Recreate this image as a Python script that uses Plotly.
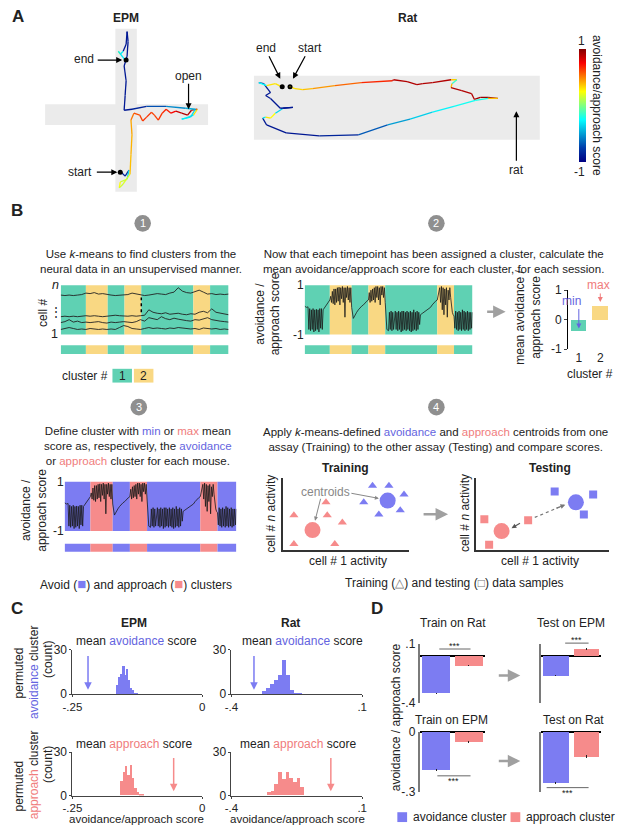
import plotly.graph_objects as go
from plotly.colors import sample_colorscale

W, H = 617, 832
FONT = "Liberation Sans, Arial, sans-serif"

BLUE = "#7c7cf2"
PINK = "#f68b8b"
TEAL = "#5fd1b3"
YELLOW = "#f9d883"
BLUE_TXT = "#6464e0"
PINK_TXT = "#f07c7c"
DARK = "#222222"
ARENA = "#ebebeb"

JET = [[0.0, "rgb(0,0,131)"], [0.125, "rgb(0,60,170)"], [0.375, "rgb(5,255,255)"],
       [0.625, "rgb(255,255,0)"], [0.875, "rgb(250,0,0)"], [1.0, "rgb(128,0,0)"]]

# ---------------- data ----------------
# A: tracked positions (video pixels, y pointing down) and avoidance/approach score
epm_x = [114, 118, 122, 120, 113, 112, 116, 123, 124, 125, 124, 127, 133, 136, 140, 145, 148, 152,
         156, 160, 165, 170, 176, 182, 186, 192, 188, 180, 176, 185, 190, 180, 160, 140, 125, 117,
         118, 119, 117, 120, 121, 120, 119, 116, 113, 111, 118]
epm_y = [168, 172, 166, 175, 178, 184, 180, 170, 150, 130, 115, 108, 110, 116, 112, 107, 110, 115,
         108, 104, 108, 106, 108, 110, 105, 104, 110, 113, 114, 112, 104, 103, 101, 101, 104, 105,
         90, 75, 60, 50, 35, 25, 38, 45, 48, 45, 54]
epm_score = [-0.8, -0.9, -0.8, 0.1, 0.2, 0.3, 0.0, 0.35, 0.4, 0.4, 0.45, 0.6, 0.6, 0.65, 0.65, 0.65,
             0.6, 0.65, 0.65, 0.7, 0.7, 0.8, 0.9, 0.9, 0.9, 0.9, -0.3, -0.3, -0.3, -0.3, -0.4, -0.5,
             -0.6, -0.8, -0.9, -0.9, -0.9, -0.9, -0.9, -0.9, -0.9, -0.9, -0.9, -0.9, 0.3, 0.2, -0.8]
epm_start = [113, 168]
epm_end = [119, 54]

rat_x = [287, 292, 300, 310, 333, 360, 392, 393, 407, 417, 423, 433, 452, 458, 453, 452, 463, 473,
         476, 482, 490, 500, 490, 477, 455, 433, 410, 387, 357, 317, 283, 263, 259, 262, 267, 272,
         280, 290, 277, 267, 262, 267, 260, 255, 263, 272, 278]
rat_y = [81, 83, 84, 83, 80, 77, 75, 74, 76, 79, 78, 77, 74, 74, 78, 82, 85, 88, 94, 92, 92, 93,
         93, 95, 101, 107, 114, 120, 130, 131, 128, 120, 113, 112, 113, 108, 103, 102, 103, 93, 90,
         87, 78, 77, 80, 78, 81]
rat_score = [0.3, 0.3, 0.35, 0.4, 0.5, 0.6, 0.75, 0.9, 0.9, 0.9, 0.9, 0.9, 0.9, -0.2, -0.1, 0.9,
             0.9, 0.9, 0.9, 0.95, 0.95, 0.95, -0.2, -0.2, -0.25, -0.3, -0.45, -0.55, -0.8, -0.9,
             -0.9, -0.9, -0.9, 0.3, 0.3, 0.2, -0.9, -0.9, -0.9, -0.9, -0.9, -0.9, -0.9, -0.8, 0.3,
             0.3, 0.3]
rat_start = [287, 81]
rat_end = [279, 81]

# B: k-means cluster assignment over the session
cluster_edges = [0, 15, 28, 38, 48, 79, 89, 100]
cluster_ids = [1, 2, 1, 2, 1, 2, 1]

neural_t = [0, 2.5, 5, 7.5, 10, 12.5, 15, 17.5, 20, 22.5, 25, 27.5, 30, 32.5, 35, 37.5, 40, 42.5,
            45, 47.5, 50, 52.5, 55, 57.5, 60, 62.5, 65, 67.5, 70, 72.5, 75, 77.5, 80, 82.5, 85,
            87.5, 90, 92.5, 95, 97.5, 100]
cell_n = [0.80, 0.79, 0.80, 0.79, 0.80, 0.81, 0.84, 0.83, 0.85, 0.82, 0.83, 0.81, 0.80, 0.79, 0.80,
          0.80, 0.81, 0.84, 0.82, 0.80, 0.79, 0.80, 0.82, 0.83, 0.82, 0.81, 0.84, 0.86, 0.95, 0.88,
          0.85, 0.84, 0.87, 0.90, 0.86, 0.82, 0.83, 0.81, 0.82, 0.81, 0.82]
cell_3 = [0.36, 0.37, 0.36, 0.37, 0.36, 0.37, 0.38, 0.37, 0.38, 0.37, 0.36, 0.37, 0.38, 0.39, 0.38,
          0.37, 0.37, 0.38, 0.37, 0.38, 0.39, 0.50, 0.45, 0.43, 0.42, 0.44, 0.41, 0.42, 0.43, 0.41,
          0.40, 0.42, 0.41, 0.45, 0.47, 0.44, 0.52, 0.45, 0.43, 0.41, 0.40]
cell_2 = [0.24, 0.26, 0.30, 0.25, 0.27, 0.24, 0.25, 0.24, 0.25, 0.26, 0.24, 0.23, 0.25, 0.24, 0.25,
          0.26, 0.25, 0.24, 0.26, 0.30, 0.27, 0.34, 0.32, 0.30, 0.36, 0.32, 0.30, 0.33, 0.31, 0.29,
          0.28, 0.27, 0.30, 0.29, 0.31, 0.34, 0.30, 0.28, 0.27, 0.26, 0.25]
cell_1 = [0.10, 0.12, 0.14, 0.12, 0.10, 0.11, 0.10, 0.12, 0.11, 0.10, 0.11, 0.10, 0.11, 0.10, 0.14,
          0.18, 0.16, 0.12, 0.11, 0.10, 0.12, 0.14, 0.12, 0.13, 0.12, 0.11, 0.13, 0.12, 0.14, 0.13,
          0.12, 0.11, 0.12, 0.10, 0.13, 0.12, 0.11, 0.12, 0.10, 0.11, 0.10]

score_t = [0, 1, 2, 2.5, 3, 3.5, 4, 4.5, 5, 5.5, 6, 6.5, 7, 7.5, 8, 8.5, 9, 9.5, 10, 10.5, 11, 12,
           13, 14, 15,
           15.5, 16, 16.5, 17, 17.5, 18, 18.5, 19, 19.5, 20, 20.5, 21, 21.5, 22, 22.5, 23, 23.5,
           24, 24.5, 25, 25.5, 26, 26.5, 27, 27.5, 28,
           29, 30, 31, 32, 33, 34, 35, 36, 37, 38,
           38.5, 39, 39.5, 40, 40.5, 41, 41.5, 42, 42.5, 43, 43.5, 44, 44.5, 45, 45.5, 46, 46.5,
           47, 47.5, 48,
           48.5, 49, 50, 50.5, 51, 51.5, 52, 52.5, 53, 54, 54.5, 55, 55.5, 56, 56.5, 57, 57.5, 58,
           58.5, 59, 59.5, 60, 60.5, 61, 61.5, 62, 62.5, 63, 63.5, 64, 64.5, 65, 65.5, 66, 66.5,
           67, 67.5, 68, 68.5, 69, 70, 71, 72, 73, 74, 75, 76, 77, 78, 79,
           79.5, 80, 80.5, 81, 81.5, 82, 82.5, 83, 83.5, 84, 84.5, 85, 85.5, 86, 86.5, 87, 87.5,
           88, 88.5, 89,
           89.5, 90, 90.5, 91, 91.5, 92, 92.5, 93, 93.5, 94, 94.5, 95, 95.5, 96, 96.5, 97, 97.5,
           98, 98.5, 99, 99.5, 100]
score_v = [0.15, 0.1, 0.12, -0.8, 0.05, -0.85, 0.0, -0.8, 0.05, -0.9, 0.0, -0.85, 0.02, -0.8, 0.0,
           -0.9, 0.05, -0.75, 0.05, -0.8, 0.0, 0.1, 0.2, 0.35, 0.4,
           0.55, 0.3, 0.75, 0.25, 0.85, 0.2, 0.85, 0.3, 0.9, 0.35, 0.92, 0.2, 0.9, 0.45, 0.95, 0.3,
           0.9, -0.3, 0.9, 0.5, 0.95, 0.4, 0.9, 0.3, 0.9, 0.1,
           -0.35, -0.2, -0.1, 0.0, 0.1, 0.15, 0.2, 0.3, 0.35, 0.4,
           0.7, 0.3, 0.8, 0.35, 0.85, 0.4, 0.9, 0.3, 0.95, 0.5, 0.95, 0.4, 0.9, 0.2, 0.95, 0.6,
           0.95, 0.5, 0.9, 0.3,
           -0.5, -0.8, -0.85, -0.1, -0.8, -0.05, -0.85, -0.1, -0.8, -0.05, -0.8, -0.1, -0.85, -0.05,
           -0.8, -0.1, -0.9, -0.05, -0.85, -0.05, -0.8, -0.1, -0.85, -0.05, -0.8, -0.1, -0.85,
           -0.05, -0.9, -0.1, -0.85, 0.0, -0.8, -0.1, -0.85, -0.05, -0.8, -0.1, -0.6, -0.2, -0.15,
           -0.1, -0.05, 0.0, 0.05, 0.1, 0.2, 0.3, 0.35, 0.4,
           0.6, 0.75, 0.9, 0.3, 0.95, 0.0, 0.9, -0.2, 0.85, 0.2, 0.9, -0.3, 0.8, 0.4, 0.9, 0.5,
           0.1, -0.1, -0.2, -0.25,
           -0.75, -0.05, -0.8, -0.1, -0.85, -0.05, -0.8, -0.1, -0.85, 0.0, -0.8, -0.05, -0.85,
           -0.1, -0.8, -0.05, -0.85, -0.1, -0.8, -0.1, -0.75, -0.1]

cluster_labels = ["1", "2"]
cluster_mean_score = [-0.4, 0.47]

# B4 schematic samples (arbitrary activity units)
train_avoid_x = [7.1, 8.4, 9.6, 6.4, 7.6, 9.3]
train_avoid_y = [8.9, 8.9, 7.7, 6.6, 4.9, 5.5]
train_appr_x = [0.85, 3.4, 3.5, 4.7, 0.85, 4.1]
train_appr_y = [4.8, 6.6, 4.8, 3.8, 0.8, 0.8]
centroid_avoid = [8.3, 6.85]
centroid_appr = [2.33, 2.74]
test_avoid_x = [5.9, 8.8, 8.1]
test_avoid_y = [8.1, 7.7, 4.9]
test_appr_x = [0.6, 3.9, 0.96]
test_appr_y = [4.25, 4.1, 0.7]
test_centroid_avoid = [7.5, 6.6]
test_centroid_appr = [1.9, 2.6]

# C: permutation histograms (bin centres, counts) and observed means
hist_epm_avoid_x = [-0.16165, -0.15795, -0.15425, -0.15055, -0.14685, -0.14315, -0.13945,
                    -0.13575, -0.13205, -0.12835, -0.12465]
hist_epm_avoid_n = [6, 12, 14, 19, 13, 17, 10, 4, 3, 1, 1]
hist_rat_avoid_x = [-0.2744, -0.2592, -0.244, -0.2288, -0.2136, -0.1984, -0.1832, -0.168,
                    -0.1528, -0.1376]
hist_rat_avoid_n = [2, 4, 7, 10, 13, 23, 13, 3, 1, 1]
hist_epm_appr_x = [-0.1548, -0.1503, -0.1458, -0.1413, -0.1368, -0.1323, -0.1278, -0.1233,
                   -0.1188, -0.1143]
hist_epm_appr_n = [10, 16, 20, 14, 21, 12, 5, 2, 1, 1]
hist_rat_appr_x = [-0.2558, -0.2415, -0.2272, -0.2129, -0.1986, -0.1843, -0.17, -0.1557,
                   -0.1414, -0.1271]
hist_rat_appr_n = [2, 3, 8, 16, 11, 16, 12, 9, 12, 6]
obs_epm_avoid = -0.22
obs_rat_avoid = -0.314
obs_epm_appr = -0.055
obs_rat_appr = -0.02

# D: mean scores (avoidance cluster, approach cluster) and SEM
train_rat = [-0.317, -0.083]
test_epm = [-0.167, 0.058]
train_epm = [-0.19, -0.049]
test_rat = [-0.256, -0.123]
sem = [0.006, 0.006]

# ---------------- helpers ----------------
fig = go.Figure()
layout = {}
annotations = []
shapes = []


def ax_id(i):
    return ("x", "y") if i == 1 else (f"x{i}", f"y{i}")


def add_axes(i, px0, px1, py0, py1, xr, yr, xopts=None, yopts=None):
    xid, yid = ax_id(i)
    base = dict(showgrid=False, zeroline=False, showticklabels=False, ticks="", showline=False,
                fixedrange=True, tickfont=dict(size=12, color=DARK, family=FONT))
    xa = dict(base, domain=[px0 / W, px1 / W], range=xr, anchor=yid)
    ya = dict(base, domain=[1 - py1 / H, 1 - py0 / H], range=yr, anchor=xid)
    xa.update(xopts or {})
    ya.update(yopts or {})
    layout["xaxis" if i == 1 else f"xaxis{i}"] = xa
    layout["yaxis" if i == 1 else f"yaxis{i}"] = ya
    return xid, yid


def text(x, y, s, size=12, color=DARK, bold=False, angle=0, xanchor="center"):
    annotations.append(dict(x=x / W, y=1 - y / H, xref="paper", yref="paper",
                            text=f"<b>{s}</b>" if bold else s, showarrow=False,
                            font=dict(size=size, color=color, family=FONT), textangle=angle,
                            xanchor=xanchor, yanchor="middle"))


def arrow(x0, y0, x1, y1, color="black", width=1.2, head=2, size=1.0):
    annotations.append(dict(x=x1 / W, y=1 - y1 / H, xref="paper", yref="paper",
                            ax=x0 - x1, ay=y0 - y1, text="", showarrow=True, arrowhead=head,
                            arrowsize=size, arrowwidth=width, arrowcolor=color))


def pline(x0, y0, x1, y1, color="#666", width=1, dash="solid"):
    shapes.append(dict(type="line", xref="paper", yref="paper", x0=x0 / W, x1=x1 / W,
                       y0=1 - y0 / H, y1=1 - y1 / H, line=dict(color=color, width=width, dash=dash)))


def prect(x0, y0, x1, y1, color):
    shapes.append(dict(type="rect", xref="paper", yref="paper", x0=x0 / W, x1=x1 / W,
                       y0=1 - y1 / H, y1=1 - y0 / H, fillcolor=color, line=dict(width=0)))


def step_circle(cx, cy, label):
    r = 8.5
    shapes.append(dict(type="circle", xref="paper", yref="paper", x0=(cx - r) / W, x1=(cx + r) / W,
                       y0=1 - (cy + r) / H, y1=1 - (cy - r) / H, fillcolor="#8f8f8f",
                       line=dict(width=0)))
    text(cx, cy, label, size=11, color="white")


def span(s, color):
    return f"<span style='color:{color}'>{s}</span>"


def add_path(xs, ys, sc, i):
    xid, yid = ax_id(i)
    cols = sample_colorscale(JET, [(a + b) / 4 + 0.5 for a, b in zip(sc[:-1], sc[1:])])
    for k in range(len(xs) - 1):
        fig.add_trace(go.Scatter(x=xs[k:k + 2], y=ys[k:k + 2], mode="lines",
                                 line=dict(color=cols[k], width=1.3), xaxis=xid, yaxis=yid,
                                 showlegend=False, hoverinfo="skip"))


def cluster_bands(i, colors, band_y0, band_y1):
    xid, yid = ax_id(i)
    for a, b, c in zip(cluster_edges[:-1], cluster_edges[1:], cluster_ids):
        shapes.append(dict(type="rect", xref=xid, yref=f"{yid} domain", x0=a, x1=b, y0=0, y1=1,
                           fillcolor=colors[c - 1], line=dict(width=0), layer="below"))
        shapes.append(dict(type="rect", xref=xid, yref="paper", x0=a, x1=b,
                           y0=1 - band_y1 / H, y1=1 - band_y0 / H,
                           fillcolor=colors[c - 1], line=dict(width=0), layer="below"))


# ---------------- A ----------------
text(8, 10, "A", size=17, bold=True)
x1, y1 = add_axes(1, 30, 210, 16, 194, [30, 210], [194, 16])
for (a, b, c, d) in [(108, 130, 22, 188), (36, 203, 99, 120)]:
    shapes.append(dict(type="rect", xref=x1, yref=y1, x0=a, x1=b, y0=c, y1=d,
                       fillcolor=ARENA, line=dict(width=0), layer="below"))
add_path(epm_x, epm_y, epm_score, 1)
fig.add_trace(go.Scatter(x=[epm_start[0], epm_end[0]], y=[epm_start[1], epm_end[1]], mode="markers",
                         marker=dict(color="black", size=5), xaxis=x1, yaxis=y1, showlegend=False))
text(119, 11, "EPM", size=12, bold=True)
text(76, 53, "end")
arrow(89, 54, 115, 54)
text(72, 168, "start")
arrow(88, 168, 110, 168)
text(183, 70, "open")
arrow(183, 77, 183, 104)

x2, y2 = add_axes(2, 245, 548, 62, 140, [245, 548], [140, 62])
shapes.append(dict(type="rect", xref=x2, yref=y2, x0=250, x1=543, y0=70, y1=135,
                   fillcolor=ARENA, line=dict(width=0), layer="below"))
add_path(rat_x, rat_y, rat_score, 2)
fig.add_trace(go.Scatter(x=[rat_start[0], rat_end[0]], y=[rat_start[1], rat_end[1]], mode="markers",
                         marker=dict(color="black", size=5), xaxis=x2, yaxis=y2, showlegend=False))
fig.add_trace(go.Scatter(
    x=[rat_x[0]], y=[rat_y[0]], mode="markers", xaxis=x2, yaxis=y2, showlegend=False,
    marker=dict(size=1, color=[rat_score[0]], colorscale=JET, cmin=-1, cmax=1, showscale=True,
                colorbar=dict(x=583 / W, xanchor="left", y=1 - 43 / H, yanchor="top",
                              len=115 / H, lenmode="fraction", thickness=7,
                              thicknessmode="pixels", showticklabels=False, ticks="",
                              outlinewidth=0, xpad=0, ypad=0))))
text(407, 11, "Rat", size=12, bold=True)
text(262, 42, "end")
arrow(265, 49, 277, 73)
text(307, 42, "start")
arrow(303, 49, 290, 73)
text(519, 166, "rat")
arrow(519, 157, 519, 106)
text(586, 35, "1")
text(584, 168, "-1")
text(601, 100, "avoidance/approach score", angle=90)

# ---------------- B ----------------
text(7, 207, "B", size=17, bold=True)
step_circle(136, 220, "1")
step_circle(437, 220, "2")
text(134, 259, "Use <i>k</i>-means to find clusters from the<br>neural data in an unsupervised manner.",
     size=11.5)
text(434, 259, "Now that each timepoint has been assigned a cluster, calculate the<br>"
               "mean avoidance/approach score for each cluster, for each session.", size=11.5)

# B1 neural activity
x3, y3 = add_axes(3, 52, 224, 283, 333, [0, 100], [0, 1])
cluster_bands(3, [TEAL, YELLOW], 344, 353)
for tr in [cell_n, cell_3, cell_2, cell_1]:
    fig.add_trace(go.Scatter(x=neural_t, y=tr, mode="lines", line=dict(color=DARK, width=0.9),
                             xaxis=x3, yaxis=y3, showlegend=False, hoverinfo="skip"))
shapes.append(dict(type="line", xref=x3, yref=y3, x0=48, x1=48, y0=0.45, y1=0.75,
                   line=dict(color="black", width=1.5, dash="dot")))
text(47, 283, "<i>n</i>", size=12.5)
text(46, 333, "1", size=12.5)
text(47, 310, "⋮", size=12)
text(34, 311, "cell #", angle=-90)
text(77, 375, "cluster #")
prect(105, 368, 125, 382, TEAL)
prect(127, 368, 147, 382, YELLOW)
text(115, 375, cluster_labels[0])
text(137, 375, cluster_labels[1])

# B2 score trace
score_yaxis = dict(showticklabels=True, tickvals=[1, -1], ticktext=["1", "-1"], ticks="")
x4, y4 = add_axes(4, 302, 474, 283, 333, [0, 100], [-1, 1], yopts=score_yaxis)
cluster_bands(4, [TEAL, YELLOW], 344, 353)
fig.add_trace(go.Scatter(x=score_t, y=score_v, mode="lines", line=dict(color="#1a1a1a", width=0.8),
                         xaxis=x4, yaxis=y4, showlegend=False, hoverinfo="skip"))
text(264, 312, "avoidance /<br>approach score", angle=-90)
arrow(488, 310, 508, 310, color="#a0a0a0", width=2.5, head=2, size=1)

# B2 cluster mean bars
x5, y5 = add_axes(5, 572, 616, 288, 348, [0.5, 2.5], [-1, 1],
                  xopts=dict(showticklabels=True, tickvals=[1, 2], ticktext=cluster_labels),
                  yopts=dict(showticklabels=True, tickvals=[-1, 0, 1], ticktext=["-1", "0", "1"],
                             showline=True, linecolor="black", linewidth=1, ticks="outside",
                             ticklen=3))
fig.add_trace(go.Bar(x=[1, 2], y=cluster_mean_score, width=0.72, marker=dict(color=[TEAL, YELLOW],
                     line=dict(width=0)), xaxis=x5, yaxis=y5, showlegend=False))
text(531, 316, "mean avoidance /<br>approach score", angle=-90)
text(594, 373, "cluster #")
text(575, 299, "min", color=BLUE_TXT)
arrow(583, 306, 583, 327, color=BLUE_TXT, width=1, head=2)
text(603, 283, "max", color=PINK_TXT)
arrow(605, 290, 605, 300, color=PINK_TXT, width=1, head=2)

# B3
step_circle(132, 407, "3")
step_circle(437, 407, "4")
text(131, 447, "Define cluster with " + span("min", BLUE_TXT) + " or " + span("max", PINK_TXT)
     + " mean<br>score as, respectively, the " + span("avoidance", BLUE_TXT) + "<br>or "
     + span("approach", PINK_TXT) + " cluster for each mouse.", size=11.5)
x6, y6 = add_axes(6, 56, 232, 483, 533, [0, 100], [-1, 1], yopts=score_yaxis)
cluster_bands(6, [BLUE, PINK], 546, 554)
fig.add_trace(go.Scatter(x=score_t, y=score_v, mode="lines", line=dict(color="#1a1a1a", width=0.8),
                         xaxis=x6, yaxis=y6, showlegend=False, hoverinfo="skip"))
text(25, 512, "avoidance /<br>approach score", angle=-90)
text(129, 586, "Avoid (" + f"<span style='color:{BLUE};font-size:15px'>■</span>"
     + ") and approach (" + f"<span style='color:{PINK};font-size:15px'>■</span>" + ") clusters")

# B4 training / testing schematic
text(436, 440, "Apply <i>k</i>-means-defined " + span("avoidance", BLUE_TXT) + " and "
     + span("approach", PINK_TXT) + " centroids from one<br>"
     "assay (Training) to the other assay (Testing) and compare scores.", size=11.5)
ax_line = dict(showline=True, linecolor="#333", linewidth=1.5)
x7, y7 = add_axes(7, 280, 409, 479, 552, [0, 10], [0, 10], xopts=ax_line, yopts=ax_line)
fig.add_trace(go.Scatter(x=train_avoid_x, y=train_avoid_y, mode="markers", xaxis=x7, yaxis=y7,
                         marker=dict(symbol="triangle-up", size=8, color=BLUE), showlegend=False))
fig.add_trace(go.Scatter(x=train_appr_x, y=train_appr_y, mode="markers", xaxis=x7, yaxis=y7,
                         marker=dict(symbol="triangle-up", size=8, color=PINK), showlegend=False))
fig.add_trace(go.Scatter(x=[centroid_avoid[0], centroid_appr[0]],
                         y=[centroid_avoid[1], centroid_appr[1]], mode="markers", xaxis=x7,
                         yaxis=y7, marker=dict(size=16, color=[BLUE, PINK]), showlegend=False))
annotations.append(dict(x=3.35, y=8.1, xref=x7, yref=y7, text="centroids", showarrow=False,
                        font=dict(size=12, color="#888", family=FONT)))
for cx, cy, tx, ty in [(centroid_appr[0] + 0.2, centroid_appr[1] + 1.3, 3.0, 7.3),
                       (centroid_avoid[0] - 0.7, centroid_avoid[1] + 0.3, 5.3, 7.9)]:
    annotations.append(dict(x=cx, y=cy, ax=tx, ay=ty, xref=x7, yref=y7, axref=x7, ayref=y7,
                            text="", showarrow=True, arrowhead=2, arrowsize=0.8, arrowwidth=1,
                            arrowcolor="#888"))
text(344, 469, "Training", bold=True)
text(268, 515, "cell # <i>n</i> activity", angle=-90)
text(346, 563, "cell # 1 activity")
arrow(423, 516, 449, 516, color="#a0a0a0", width=2.5, head=2, size=1)

x8, y8 = add_axes(8, 478, 614, 479, 552, [0, 10], [0, 10], xopts=ax_line, yopts=ax_line)
fig.add_trace(go.Scatter(x=test_avoid_x, y=test_avoid_y, mode="markers", xaxis=x8, yaxis=y8,
                         marker=dict(symbol="square", size=8, color=BLUE), showlegend=False))
fig.add_trace(go.Scatter(x=test_appr_x, y=test_appr_y, mode="markers", xaxis=x8, yaxis=y8,
                         marker=dict(symbol="square", size=8, color=PINK), showlegend=False))
fig.add_trace(go.Scatter(x=[test_centroid_avoid[0], test_centroid_appr[0]],
                         y=[test_centroid_avoid[1], test_centroid_appr[1]], mode="markers",
                         xaxis=x8, yaxis=y8, marker=dict(size=16, color=[BLUE, PINK]),
                         showlegend=False))
shapes.append(dict(type="line", xref=x8, yref=y8, x0=test_appr_x[1] + 0.5,
                   y0=test_appr_y[1] + 0.4, x1=test_centroid_avoid[0] - 0.9,
                   y1=test_centroid_avoid[1] - 0.4, line=dict(color="#777", width=1.2, dash="dot")))
annotations.append(dict(x=test_centroid_avoid[0] - 0.8, y=test_centroid_avoid[1] - 0.35,
                        ax=test_centroid_avoid[0] - 1.6, ay=test_centroid_avoid[1] - 0.9,
                        xref=x8, yref=y8, axref=x8, ayref=y8, text="", showarrow=True,
                        arrowhead=2, arrowsize=0.8, arrowwidth=1.2, arrowcolor="#777"))
annotations.append(dict(x=test_centroid_appr[0] + 0.75, y=test_centroid_appr[1] + 0.4,
                        ax=test_appr_x[1] - 0.5, ay=test_appr_y[1] - 0.3,
                        xref=x8, yref=y8, axref=x8, ayref=y8, text="", showarrow=True,
                        arrowhead=2, arrowsize=0.8, arrowwidth=1.2, arrowcolor="#555"))
text(553, 469, "Testing", bold=True)
text(467, 515, "cell # <i>n</i> activity", angle=-90)
text(543, 563, "cell # 1 activity")
text(456, 586, "Training (<span style='color:#777'>△</span>) and testing "
               "(<span style='color:#777'>□</span>) data samples")

# ---------------- C ----------------
text(7, 612, "C", size=17, bold=True)
text(127, 627, "EPM", bold=True)
text(288, 627, "Rat", bold=True)

hists = [
    (9, 64, 197, 654, 699, [-0.25, 0], ["-.25", "0"], hist_epm_avoid_x, hist_epm_avoid_n, 0.0037,
     obs_epm_avoid, BLUE),
    (10, 227, 361, 654, 699, [-0.4, 0.1], ["-.4", ".1"], hist_rat_avoid_x, hist_rat_avoid_n,
     0.0152, obs_rat_avoid, BLUE),
    (11, 64, 197, 758, 802, [-0.25, 0], ["-.25", "0"], hist_epm_appr_x, hist_epm_appr_n, 0.0045,
     obs_epm_appr, PINK),
    (12, 227, 361, 758, 802, [-0.4, 0.1], ["-.4", ".1"], hist_rat_appr_x, hist_rat_appr_n,
     0.0143, obs_rat_appr, PINK),
]
for i, a, b, c, d, xr, xt, hx, hn, bw, obs, col in hists:
    xi, yi = add_axes(i, a, b, c, d, xr, [0, 30],
                      xopts=dict(showline=True, linecolor="#444", linewidth=1, ticks="outside",
                                 ticklen=2, tickcolor="#444", showticklabels=True, tickvals=xr,
                                 ticktext=xt, tickfont=dict(size=11.5, color=DARK, family=FONT)),
                      yopts=dict(showline=True, linecolor="#444", linewidth=1, ticks="outside",
                                 ticklen=2, tickcolor="#444", showticklabels=True,
                                 tickvals=[0, 30], ticktext=["0", "30"]))
    fig.add_trace(go.Bar(x=hx, y=hn, width=bw, marker=dict(color=col, line=dict(width=0)),
                         xaxis=xi, yaxis=yi, showlegend=False))
    annotations.append(dict(x=obs, y=3, ax=obs, ay=27, xref=xi, yref=yi, axref=xi, ayref=yi,
                            text="", showarrow=True, arrowhead=2, arrowsize=1, arrowwidth=1.5,
                            arrowcolor=col))

text(130, 645, "mean " + span("avoidance", BLUE_TXT) + " score")
text(300, 645, "mean " + span("avoidance", BLUE_TXT) + " score")
text(127, 750, "mean " + span("approach", PINK_TXT) + " score")
text(295, 750, "mean " + span("approach", PINK_TXT) + " score")
text(130, 826, "avoidance/approach score", size=11.5)
text(295, 826, "avoidance/approach score", size=11.5)
text(9, 677, "permuted", angle=-90)
text(24, 677, span("avoidance", BLUE_TXT) + " cluster", angle=-90)
text(39, 664, "(count)", angle=-90)
text(9, 792, "permuted", angle=-90)
text(24, 781, span("approach", PINK_TXT) + " cluster", angle=-90)
text(39, 771, "(count)", angle=-90)

# ---------------- D ----------------
text(376, 612, "D", size=17, bold=True)
dpanels = [
    (13, 420, 487, 648, 708, [-0.4, 0.1], [0.1, -0.4], [".1", "-.4"], True, train_rat,
     "Train on Rat", 454, 627),
    (14, 544, 606, 648, 708, [-0.4, 0.1], [0.1, -0.4], [".1", "-.4"], False, test_epm,
     "Test on EPM", 575, 627),
    (15, 420, 487, 737, 798, [-0.3, 0.002], [0, -0.3], ["0", "-.3"], True, train_epm,
     "Train on EPM", 452, 725),
    (16, 544, 606, 737, 798, [-0.3, 0.002], [0, -0.3], ["0", "-.3"], False, test_rat,
     "Test on Rat", 578, 725),
]
for i, a, b, c, d, yr, tv, tt, lab, vals, title, tx, ty in dpanels:
    xi, yi = add_axes(i, a, b, c, d, [0.5, 2.5], yr,
                      yopts=dict(showline=True, linecolor="#7a7a7a", linewidth=2, ticks="inside",
                                 ticklen=3, tickcolor="#7a7a7a", tickwidth=1.5, tickvals=tv,
                                 ticktext=tt, showticklabels=lab, zeroline=True,
                                 zerolinecolor="black", zerolinewidth=1.5))
    fig.add_trace(go.Bar(x=[1, 2], y=vals, width=0.85,
                         marker=dict(color=[BLUE, PINK], line=dict(width=0)),
                         error_y=dict(type="data", array=sem, color="#222", thickness=1, width=0),
                         xaxis=xi, yaxis=yi, showlegend=False))
    text(tx, ty, title)

for a, b, y, ty in [(440, 472, 653, 650), (569, 593, 647, 644), (438, 472, 782, 787),
                    (550, 593, 794, 799)]:
    pline(a, y, b, y, color="#666", width=1)
    text((a + b) / 2, ty, "***", size=9)
arrow(500, 680, 523, 680, color="#a0a0a0", width=2.5, head=2, size=1)
arrow(500, 767, 523, 767, color="#a0a0a0", width=2.5, head=2, size=1)
text(395, 722, "avoidance / approach score", angle=-90)
prect(397, 819, 407, 829, BLUE)
text(411, 824, "avoidance cluster", xanchor="left")
prect(513, 819, 523, 829, PINK)
text(527, 824, "approach cluster", xanchor="left")

fig.update_layout(
    width=W, height=H, margin=dict(l=0, r=0, t=0, b=0),
    paper_bgcolor="white", plot_bgcolor="white",
    font=dict(family=FONT, size=12, color=DARK),
    showlegend=False, bargap=0,
    annotations=annotations, shapes=shapes,
    **layout,
)

# the page body has a default 8px margin; drop it so the figure sits at the window corner
fig.write_html("out.html", config={"displayModeBar": False},
               post_script="document.body.style.margin='0';")
